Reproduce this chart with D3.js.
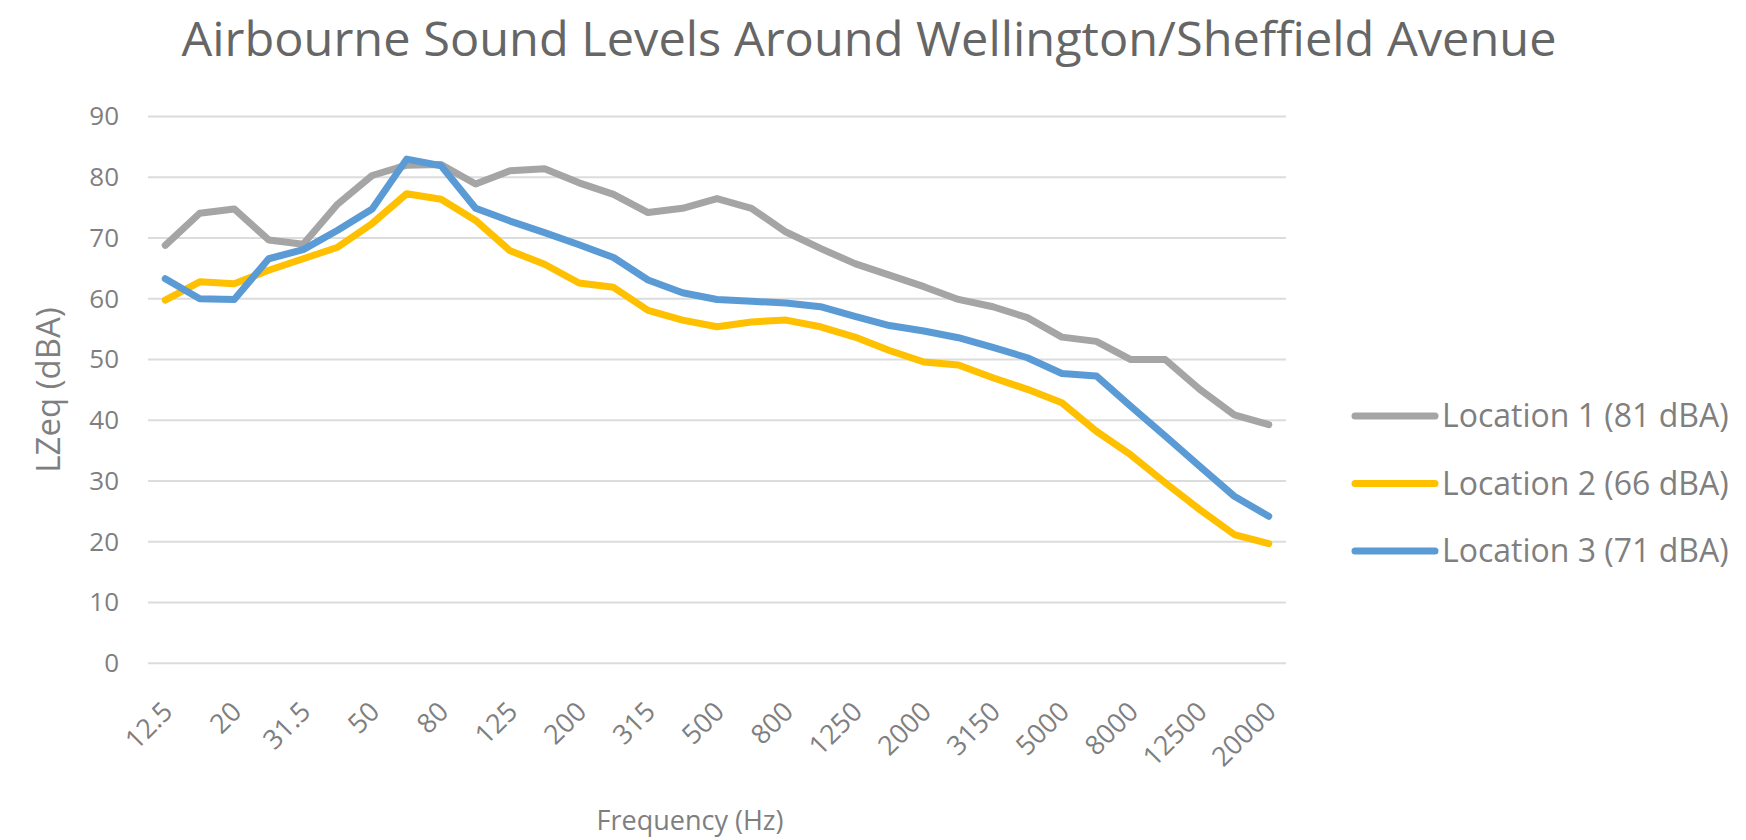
<!DOCTYPE html>
<meta charset="utf-8">
<html>
<head>
<title>Airbourne Sound Levels</title>
<script src="https://d3js.org/d3.v7.min.js"></script>
<style>
body { margin: 0; background: #fff; }
svg { display: block; font-family: 'Open Sans', sans-serif; }
</style>
</head>
<body>
<div id="chart"></div>
<script>

// third-octave band centres (Hz)
var freqs = ["12.5","16","20","25","31.5","40","50","63","80","100","125","160","200","250","315",
  "400","500","630","800","1000","1250","1600","2000","2500","3150","4000","5000","6300","8000",
  "10000","12500","16000","20000"];

// LZeq per band
var loc1 = [68.8, 74.1, 74.8, 69.7, 69.0, 75.6, 80.3, 82.0, 82.1, 78.9, 81.1, 81.4, 79.1, 77.2, 74.2,
  74.9, 76.5, 74.9, 71.0, 68.3, 65.8, 63.9, 62.0, 59.9, 58.7, 56.9, 53.7, 53.0, 50.0, 50.0, 45.1, 40.9, 39.3];
var loc2 = [59.8, 62.8, 62.5, 64.7, 66.6, 68.5, 72.4, 77.3, 76.4, 72.9, 67.9, 65.7, 62.6, 61.9, 58.1,
  56.5, 55.4, 56.2, 56.5, 55.4, 53.7, 51.5, 49.6, 49.1, 47.0, 45.1, 42.9, 38.2, 34.3, 29.7, 25.3, 21.2, 19.7];
var loc3 = [63.3, 60.0, 59.9, 66.6, 68.1, 71.3, 74.8, 83.0, 81.9, 74.9, 72.8, 70.9, 68.9, 66.8, 63.1,
  61.0, 59.9, 59.6, 59.3, 58.7, 57.1, 55.6, 54.7, 53.6, 52.0, 50.3, 47.7, 47.3, 42.3, 37.4, 32.4, 27.5, 24.2];

var seriesNames = ["Location 1 (81 dBA)", "Location 2 (66 dBA)", "Location 3 (71 dBA)"];
var yTicks = [0, 10, 20, 30, 40, 50, 60, 70, 80, 90];
// only every other band is labelled
var xLabels = freqs.filter(function(d, i) { return i % 2 === 0; });

var colors = ["#a5a5a5", "#ffc000", "#5b9bd5"];
var series = [loc1, loc2, loc3].map(function(v, k) {
  return { name: seriesNames[k], values: v, color: colors[k] };
});

var width = 1746, height = 840;
var plotLeft = 148, plotRight = 1286, plotTop = 116.6, plotBottom = 663.3;

var svg = d3.select("#chart").append("svg")
    .attr("width", width)
    .attr("height", height);

svg.append("rect").attr("width", width).attr("height", height).attr("fill", "#fff");

var x = d3.scaleBand().domain(freqs).range([plotLeft, plotRight]).padding(0);
var y = d3.scaleLinear().domain([0, 90]).range([plotBottom, plotTop]);

// gridlines
svg.append("g")
  .selectAll("line")
  .data(yTicks)
  .enter().append("line")
    .attr("x1", plotLeft).attr("x2", plotRight)
    .attr("y1", function(d) { return y(d); })
    .attr("y2", function(d) { return y(d); })
    .attr("stroke", "#dcdcdc")
    .attr("stroke-width", 2);

// y axis
var yAxis = svg.append("g")
  .attr("transform", "translate(119,0)")
  .call(d3.axisLeft(y).tickValues(yTicks).tickSize(0).tickPadding(0));
yAxis.select(".domain").remove();
yAxis.selectAll("text")
  .attr("fill", "#7f7f7f")
  .style("font-size", "26px")
  .style("font-family", "'Open Sans', sans-serif");

// x axis
var xAxis = svg.append("g")
  .attr("transform", "translate(0," + plotBottom + ")")
  .call(d3.axisBottom(x).tickValues(xLabels).tickSize(0));
xAxis.select(".domain").remove();
xAxis.selectAll("text")
  .attr("fill", "#7f7f7f")
  .attr("y", 0).attr("dy", 0)
  .attr("text-anchor", "end")
  .attr("transform", "translate(9,50) rotate(-45)")
  .style("font-size", "27px")
  .style("font-family", "'Open Sans', sans-serif");

// lines
var line = d3.line()
  .x(function(d, i) { return x(freqs[i]) + x.bandwidth() / 2; })
  .y(function(d) { return y(d); });

svg.append("g")
  .selectAll("path")
  .data(series)
  .enter().append("path")
    .attr("d", function(d) { return line(d.values); })
    .attr("fill", "none")
    .attr("stroke", function(d) { return d.color; })
    .attr("stroke-width", 7)
    .attr("stroke-linejoin", "round")
    .attr("stroke-linecap", "round");

// title
svg.append("text")
  .attr("x", 869).attr("y", 56)
  .attr("text-anchor", "middle")
  .attr("textLength", 1375)
  .attr("lengthAdjust", "spacingAndGlyphs")
  .attr("fill", "#666")
  .style("font-size", "47px")
  .text("Airbourne Sound Levels Around Wellington/Sheffield Avenue");

// axis titles
svg.append("text")
  .attr("transform", "translate(48,390) rotate(-90)")
  .attr("text-anchor", "middle")
  .attr("dy", "0.35em")
  .attr("fill", "#7f7f7f")
  .style("font-size", "33px")
  .text("LZeq (dBA)");

svg.append("text")
  .attr("x", 690).attr("y", 830)
  .attr("text-anchor", "middle")
  .attr("fill", "#7f7f7f")
  .style("font-size", "27px")
  .text("Frequency (Hz)");

// legend
var legend = svg.append("g")
  .selectAll("g")
  .data(series)
  .enter().append("g")
    .attr("transform", function(d, i) { return "translate(1355," + (416 + i * 67.5) + ")"; });

legend.append("line")
  .attr("x1", 0).attr("x2", 80)
  .attr("stroke", function(d) { return d.color; })
  .attr("stroke-width", 7)
  .attr("stroke-linecap", "round");

legend.append("text")
  .attr("x", 87)
  .attr("dy", "0.35em")
  .attr("fill", "#7f7f7f")
  .style("font-size", "32px")
  .text(function(d) { return d.name; });

</script>
</body>
</html>
